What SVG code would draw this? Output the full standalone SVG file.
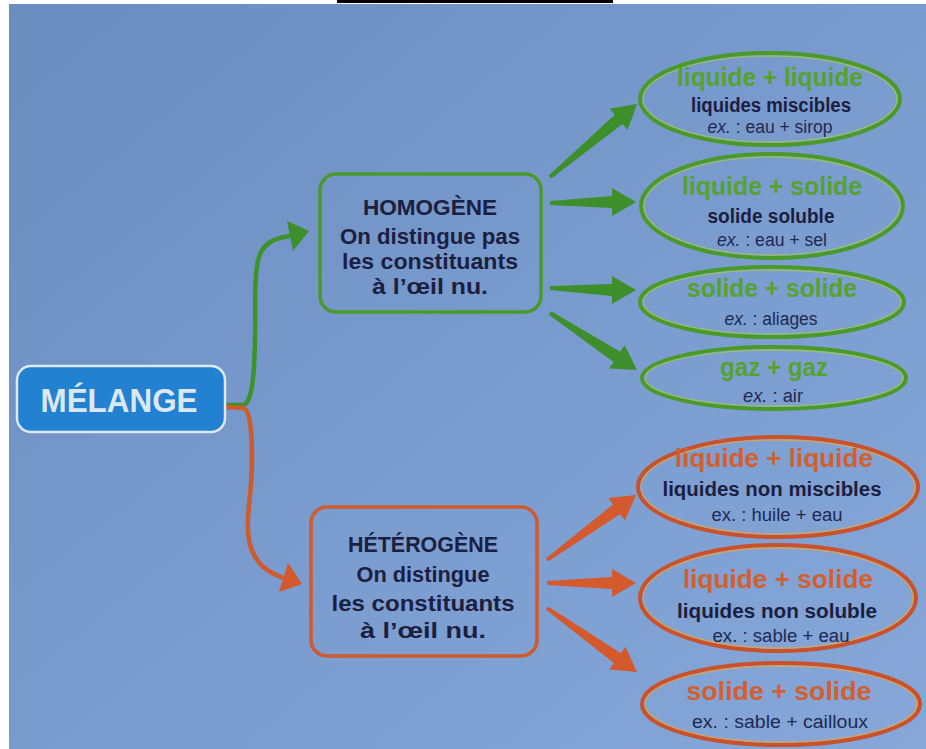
<svg xmlns="http://www.w3.org/2000/svg" width="926" height="749" viewBox="0 0 926 749">
<defs>
<linearGradient id="bg" x1="0" y1="0" x2="1" y2="1">
<stop offset="0" stop-color="#6a8cbf"/>
<stop offset="0.55" stop-color="#7b9ccf"/>
<stop offset="1" stop-color="#86a7d8"/>
</linearGradient>
<style>
text{font-family:"Liberation Sans",Arial,sans-serif;text-anchor:middle;}
.b{font-weight:bold;}
.box{font-weight:bold;font-size:22px;fill:#1b2040;}
.gt{font-weight:bold;font-size:25px;fill:#55a22f;}
.ot{font-weight:bold;font-size:25px;fill:#d2602f;}
.sub{font-weight:bold;font-size:20px;fill:#1b2040;}
.ex{font-size:18px;fill:#1e2a52;}
.gell{fill:none;stroke:#4a9a2b;stroke-width:4;}
.gin{fill:none;stroke:#a6cc45;stroke-width:1.3;opacity:0.7;}
.oell{fill:none;stroke:#c9512b;stroke-width:4;}
.oin{fill:none;stroke:#eaa543;stroke-width:1.3;opacity:0.75;}
.garrow{fill:#3d8f2c;}
.oarrow{fill:#d4592d;}
</style>
</defs>

<rect x="0" y="0" width="926" height="749" fill="#ffffff"/>
<rect x="9" y="4" width="917" height="745" fill="url(#bg)"/>
<rect x="337" y="0" width="276" height="3" fill="#000000"/>

<g id="connectors">
<path d="M226 405 L244 405 C252 400 254 380 255 340 C256 300 253 268 261 252 C267 241 277 238 290 236" fill="none" stroke="#3d922b" stroke-width="4.5"/>
<polygon class="garrow" points="309,231 287,221 293,251"/>
<path d="M226 407 L244 408 C250 412 252 430 252 460 C252 500 244 520 250 545 C256 565 268 572 283 578" fill="none" stroke="#cf5a2c" stroke-width="4.5"/>
<polygon class="oarrow" points="302,584 288,563 279,592"/>

<polygon class="garrow" points="548.7,175.5 614.7,114.8 609.6,108.7 637,104 627.6,130.1 622.5,124.0 551.3,178.5"/>
<polygon class="garrow" points="550,201 612,196 612,188 636,202 612,216 612,208 550,205"/>
<polygon class="garrow" points="550,286 612,284 612,276 636,290 612,304 612,296 550,290"/>
<polygon class="garrow" points="551.1,311.3 620.2,351.8 624.6,345.1 637,370 609.2,368.6 613.6,361.9 548.9,314.7"/>

<polygon class="oarrow" points="545.8,558.4 613.1,504.4 608.3,497.9 636,495 624.9,520.5 620.1,514.0 548.2,561.6"/>
<polygon class="oarrow" points="547,581 612,577 612,569 636,583 612,597 612,589 547,585"/>
<polygon class="oarrow" points="548.2,606.4 620.9,653.2 625.5,646.7 637,672 609.3,669.5 613.9,663.0 545.8,609.6"/>
</g>

<g id="melange">
<rect x="17" y="366" width="208" height="66" rx="14" fill="#2281d1" stroke="#dfe9f3" stroke-width="2.5"/>
<text x="119" y="412" class="b" font-size="33" fill="#dde7f1" textLength="157" lengthAdjust="spacingAndGlyphs">MÉLANGE</text>
</g>

<g id="homogene">
<rect x="320" y="174" width="221" height="138" rx="16" fill="none" stroke="#4a9a2b" stroke-width="3.5"/>
<text x="430" y="215" class="box" textLength="134" lengthAdjust="spacingAndGlyphs">HOMOGÈNE</text>
<text x="430" y="244" class="box" textLength="180" lengthAdjust="spacingAndGlyphs">On distingue pas</text>
<text x="430" y="269" class="box" textLength="176" lengthAdjust="spacingAndGlyphs">les constituants</text>
<text x="430" y="294" class="box" textLength="116" lengthAdjust="spacingAndGlyphs">à l’œil nu.</text>
</g>

<g id="heterogene">
<rect x="311" y="507" width="226" height="149" rx="16" fill="none" stroke="#cf5a2b" stroke-width="3.5"/>
<text x="423" y="552" class="box" textLength="150" lengthAdjust="spacingAndGlyphs">HÉTÉROGÈNE</text>
<text x="423" y="582" class="box" textLength="133" lengthAdjust="spacingAndGlyphs">On distingue</text>
<text x="423" y="611" class="box" textLength="183" lengthAdjust="spacingAndGlyphs">les constituants</text>
<text x="423" y="638" class="box" textLength="126" lengthAdjust="spacingAndGlyphs">à l’œil nu.</text>
</g>

<g id="homo-ll">
<ellipse cx="770" cy="99" rx="130" ry="46" class="gell"/>
<ellipse cx="770" cy="99" rx="127" ry="43" class="gin"/>
<text x="770" y="86" class="gt" textLength="186" lengthAdjust="spacingAndGlyphs">liquide + liquide</text>
<text x="771" y="112" class="sub" textLength="160" lengthAdjust="spacingAndGlyphs">liquides miscibles</text>
<text x="770" y="133" class="ex" textLength="125" lengthAdjust="spacingAndGlyphs"><tspan font-style="italic">ex.</tspan> : eau + sirop</text>
</g>

<g id="homo-ls">
<ellipse cx="772" cy="206" rx="131" ry="52" class="gell"/>
<ellipse cx="772" cy="206" rx="128" ry="49" class="gin"/>
<text x="772" y="195" class="gt" textLength="180" lengthAdjust="spacingAndGlyphs">liquide + solide</text>
<text x="771" y="223" class="sub" textLength="127" lengthAdjust="spacingAndGlyphs">solide soluble</text>
<text x="772" y="246" class="ex" textLength="110" lengthAdjust="spacingAndGlyphs"><tspan font-style="italic">ex.</tspan> : eau + sel</text>
</g>

<g id="homo-ss">
<ellipse cx="772" cy="302" rx="132" ry="35" class="gell"/>
<ellipse cx="772" cy="302" rx="129" ry="32" class="gin"/>
<text x="772" y="297" class="gt" textLength="170" lengthAdjust="spacingAndGlyphs">solide + solide</text>
<text x="771" y="325" class="ex" textLength="93" lengthAdjust="spacingAndGlyphs"><tspan font-style="italic">ex.</tspan> : aliages</text>
</g>

<g id="homo-gg">
<ellipse cx="774" cy="378" rx="132" ry="31" class="gell"/>
<ellipse cx="774" cy="378" rx="129" ry="28" class="gin"/>
<text x="774" y="376" class="gt" textLength="108" lengthAdjust="spacingAndGlyphs">gaz + gaz</text>
<text x="773" y="402" class="ex" textLength="60" lengthAdjust="spacingAndGlyphs"><tspan font-style="italic">ex.</tspan> : air</text>
</g>

<g id="hetero-ll">
<ellipse cx="778" cy="487" rx="140" ry="50" class="oell"/>
<ellipse cx="778" cy="487" rx="137" ry="47" class="oin"/>
<text x="774" y="467" class="ot" textLength="198" lengthAdjust="spacingAndGlyphs">liquide + liquide</text>
<text x="772" y="496" class="sub" textLength="219" lengthAdjust="spacingAndGlyphs">liquides non miscibles</text>
<text x="777" y="521" class="ex" textLength="131" lengthAdjust="spacingAndGlyphs">ex. : huile + eau</text>
</g>

<g id="hetero-ls">
<ellipse cx="778" cy="598" rx="138" ry="53" class="oell"/>
<ellipse cx="778" cy="598" rx="135" ry="50" class="oin"/>
<text x="778" y="588" class="ot" textLength="190" lengthAdjust="spacingAndGlyphs">liquide + solide</text>
<text x="777" y="618" class="sub" textLength="200" lengthAdjust="spacingAndGlyphs">liquides non soluble</text>
<text x="781" y="642" class="ex" textLength="137" lengthAdjust="spacingAndGlyphs">ex. : sable + eau</text>
</g>

<g id="hetero-ss">
<ellipse cx="781" cy="704" rx="139" ry="41" class="oell"/>
<ellipse cx="781" cy="704" rx="136" ry="38" class="oin"/>
<text x="779" y="700" class="ot" textLength="185" lengthAdjust="spacingAndGlyphs">solide + solide</text>
<text x="780" y="728" class="ex" textLength="176" lengthAdjust="spacingAndGlyphs">ex. : sable + cailloux</text>
</g>
</svg>
